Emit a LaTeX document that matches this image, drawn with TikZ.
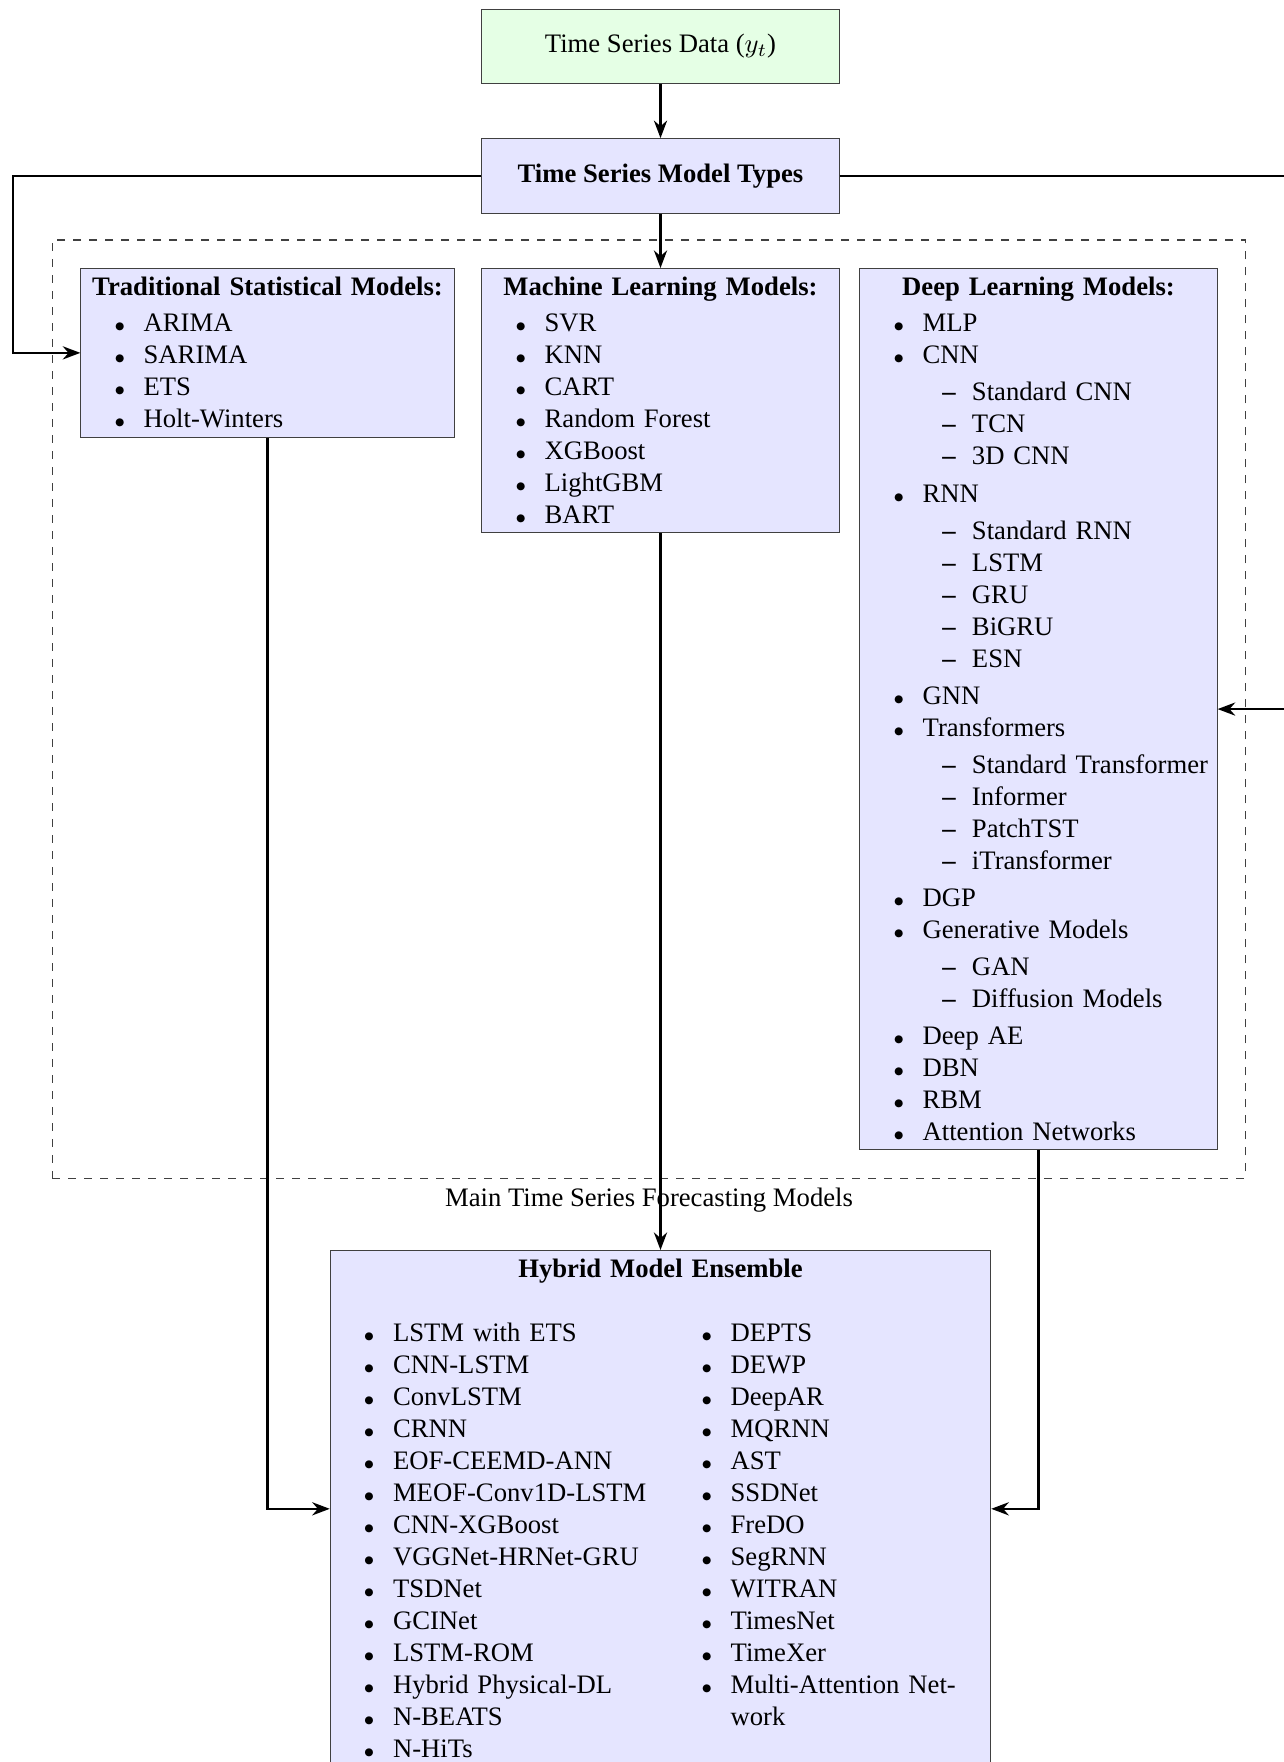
\documentclass[tikz,border=0pt]{standalone}
\usepackage{fontspec}
\setmainfont{Liberation Serif}
\usepackage{enumitem}
\usetikzlibrary{arrows.meta,positioning,fit}
\setlist[itemize,1]{label=$\scriptstyle\bullet$,leftmargin=20.2pt,labelsep=6.9pt,topsep=1.5pt,partopsep=0pt,itemsep=0pt,parsep=0pt}
\setlist[itemize,2]{label=\textbf{\textendash},leftmargin=18.5pt,labelsep=6pt,topsep=1.9pt,partopsep=0pt,itemsep=0pt,parsep=0pt}
\tikzset{
  databox/.style={draw=black!75,fill=green!10,minimum width=134pt,minimum height=28pt},
  typebox/.style={draw=black!75,fill=blue!10,minimum width=134pt,minimum height=28pt,font=\bfseries},
  catbox/.style={draw=black!75,fill=blue!10,anchor=north,text width=#1},
  catbox/.default=127.3pt,
  flow/.style={-Stealth,thick},
}
\newcommand{\cattitle}[1]{{\centering\textbf{#1}\par}}

\begin{document}
\begin{tikzpicture}[x=0.375pt,y=-0.375pt]
  \useasboundingbox (0,0) rectangle (1284,1762);
  \node[databox] (data) at (660.5,46.5) {Time Series Data ($y_t$)};
  \node[typebox] (types) at (660.5,176) {Time Series Model Types};

  % the three families
  \node[catbox=133.3pt] (trad) at (267.5,268) {\cattitle{Traditional Statistical Models:}
    \begin{itemize}
      \item ARIMA
      \item SARIMA
      \item ETS
      \item Holt-Winters
    \end{itemize}};
  \node[catbox] (ml) at (660.5,268) {\cattitle{Machine Learning Models:}
    \begin{itemize}
      \item SVR
      \item KNN
      \item CART
      \item Random Forest
      \item XGBoost
      \item LightGBM
      \item BART
    \end{itemize}};
  \node[catbox] (dl) at (1038.5,268) {\cattitle{Deep Learning Models:}
    \begin{itemize}
      \item MLP
      \item CNN
      \begin{itemize}
        \item Standard CNN
        \item TCN
        \item 3D CNN
      \end{itemize}
      \item RNN
      \begin{itemize}
        \item Standard RNN
        \item LSTM
        \item GRU
        \item BiGRU
        \item ESN
      \end{itemize}
      \item GNN
      \item Transformers
      \begin{itemize}
        \item Standard Transformer
        \item Informer
        \item PatchTST
        \item iTransformer
      \end{itemize}
      \item DGP
      \item Generative Models
      \begin{itemize}
        \item GAN
        \item Diffusion Models
      \end{itemize}
      \item Deep AE
      \item DBN
      \item RBM
      \item Attention Networks
    \end{itemize}};
  \node[draw=black!75,dashed,fit=(trad)(ml)(dl),inner sep=10.5pt,
    label=below:{Main Time Series Forecasting Models}] (mainbox) {};

  % hybrid models
  \node[catbox=241pt] (hybrid) at (660.5,1250) {\cattitle{Hybrid Model Ensemble}
    \vspace{12pt}
    \noindent\begin{minipage}[t]{121pt}
    \begin{itemize}
      \item LSTM with ETS
      \item CNN-LSTM
      \item ConvLSTM
      \item CRNN
      \item EOF-CEEMD-ANN
      \item MEOF-Conv1D-LSTM
      \item CNN-XGBoost
      \item VGGNet-HRNet-GRU
      \item TSDNet
      \item GCINet
      \item LSTM-ROM
      \item Hybrid Physical-DL
      \item N-BEATS
      \item N-HiTs
    \end{itemize}
    \end{minipage}\hspace{5.6pt}%
    \begin{minipage}[t]{114.4pt}
    \begin{itemize}
      \item DEPTS
      \item DEWP
      \item DeepAR
      \item MQRNN
      \item AST
      \item SSDNet
      \item FreDO
      \item SegRNN
      \item WITRAN
      \item TimesNet
      \item TimeXer
      \item Multi-Attention Net-\newline work
    \end{itemize}
    \end{minipage}};

  \coordinate (lrail) at (13,176);
  \coordinate (rrail) at (1308,176);
  \draw[flow] (data) -- (types);
  \draw[flow] (types) -- (ml);
  \draw[flow] (types.west) -- (lrail) |- (trad.west);
  \draw[flow] (types.east) -- (rrail) |- (dl.east);
  \draw[flow] (trad.south) |- (hybrid.west);
  \draw[flow] (ml) -- (hybrid);
  \draw[flow] (dl.south) |- (hybrid.east);
\end{tikzpicture}
\end{document}
